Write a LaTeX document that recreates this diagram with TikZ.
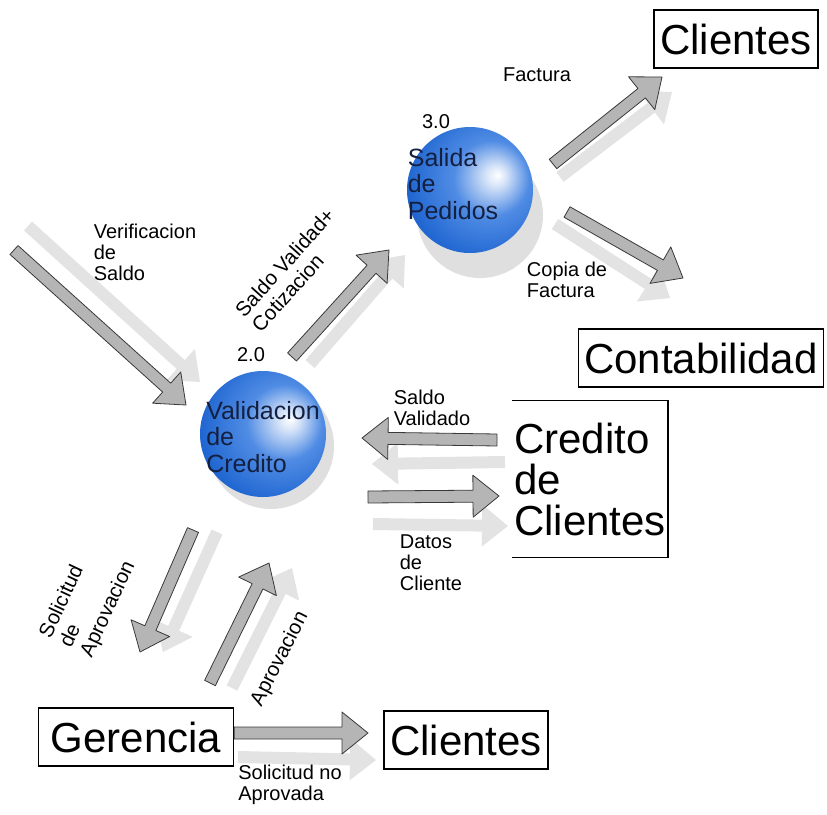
\documentclass[tikz,border=0pt]{standalone}
\usepackage{fontspec}
\setmainfont{Liberation Sans}
\usetikzlibrary{calc}

\definecolor{esfclaro}{RGB}{215,228,248}
\definecolor{esfmedio}{RGB}{80,140,228}
\definecolor{esfazul}{RGB}{34,104,210}
\definecolor{esfoscuro}{RGB}{18,60,160}
\definecolor{azultexto}{RGB}{20,32,64}
\pgfdeclareradialshading{esferaazul}{\pgfpoint{11bp}{6bp}}{color(0bp)=(white); color(4bp)=(esfclaro); color(15bp)=(esfmedio); color(30bp)=(esfazul); color(48bp)=(esfoscuro); color(64bp)=(esfoscuro)}

% fat arrow: style, tail, tip
\newcommand{\flecha}[3]{%
  \coordinate (fh) at ($(#3)!26pt!(#2)$);
  \path[#1] ($(#2)!6pt!90:(#3)$) -- ($(fh)!6pt!90:(#3)$) -- ($(fh)!21pt!90:(#3)$)
    -- (#3) -- ($(fh)!21pt!-90:(#3)$) -- ($(fh)!6pt!-90:(#3)$) -- ($(#2)!6pt!-90:(#3)$) -- cycle;
}

\begin{document}
\begin{tikzpicture}[x=1pt, y=-1pt,
  caja/.style={draw, line width=1.3pt, minimum height=58pt, inner xsep=6pt, font=\fontsize{42}{46}\selectfont},
  almacen/.style={align=left, inner xsep=2pt, minimum height=157pt, font=\fontsize{42}{41}\selectfont},
  proc/.style={circle, minimum size=126pt, inner sep=0pt, shading=esferaazul},
  procsombra/.style={circle, minimum size=126pt, inner sep=0pt, fill=gray!25},
  proctxt/.style={align=left, inner sep=0pt, text=azultexto, font=\fontsize{25}{26.5}\selectfont},
  etq/.style={align=left, inner sep=0pt, font=\fontsize{20}{21}\selectfont},
  etqgiro/.style={etq, font=\fontsize{20.5}{22.5}\selectfont},
  tubo/.style={fill=gray!58, draw=gray!45!black, line width=0.8pt, line join=round},
  sombra/.style={fill=gray!22}
]
\useasboundingbox (0,0) rectangle (827,814);

% processes
\node[procsombra] (p2s) at (271,446) {};
\node[procsombra] (p3s) at (480,215) {};
\node[proc] (p2) at (263,434) {};
\node[proc] (p3) at (470,190) {};
\node[proctxt] (t2) at (263,437) {Validacion\\de\\Credito};
\node[proctxt] (t3) at (453,184) {Salida\\de\\Pedidos};
\node[etq] (n2) at (251,355) {2.0};
\node[etq] (n3) at (436,122) {3.0};

% entities
\node[caja] (cli1) at (736,39) {Clientes};
\node[caja] (conta) at (701,358) {Contabilidad};
\node[caja, minimum width=195pt] (ger) at (136,737) {Gerencia};
\node[caja] (cli2) at (466,740) {Clientes};
\node[almacen] (cred) at (590,479) {Credito\\de\\Clientes};
\draw[line width=1.3pt] (cred.north west) -- (cred.north east) -- (cred.south east) -- (cred.south west);

% arrow ends
\coordinate (ver1) at (14,250);   \coordinate (ver2) at (186,405);
\coordinate (sv1) at (292,357);   \coordinate (sv2) at (389,250);
\coordinate (fac1) at (553,164);  \coordinate (fac2) at (662,77);
\coordinate (cop1) at (567,212);  \coordinate (cop2) at (683,278);
\coordinate (svd1) at (497,440);  \coordinate (svd2) at (362,438);
\coordinate (dat1) at (368,497);  \coordinate (dat2) at (499,496);
\coordinate (sol1) at (193,530);  \coordinate (sol2) at (140,652);
\coordinate (apr1) at (210,683);  \coordinate (apr2) at (269,563);
\coordinate (sna1) at (ger.east |- 0,733); \coordinate (sna2) at (368,733);
% shadow ends
\coordinate (vers1) at (28,226);  \coordinate (vers2) at (200,382);
\coordinate (svs1) at (310,364);  \coordinate (svs2) at (405,255);
\coordinate (facs1) at (560,177); \coordinate (facs2) at (672,92);
\coordinate (cops1) at (555,224); \coordinate (cops2) at (670,298);
\coordinate (svds1) at (505,462); \coordinate (svds2) at (372,464);
\coordinate (dats1) at (373,524); \coordinate (dats2) at (508,526);
\coordinate (sols1) at (217,532); \coordinate (sols2) at (163,652);
\coordinate (aprs1) at (232,688); \coordinate (aprs2) at (292,568);
\coordinate (snas1) at (238,757); \coordinate (snas2) at (376,760);

\flecha{sombra}{vers1}{vers2}
\flecha{sombra}{svs1}{svs2}
\flecha{sombra}{facs1}{facs2}
\flecha{sombra}{cops1}{cops2}
\flecha{sombra}{svds1}{svds2}
\flecha{sombra}{dats1}{dats2}
\flecha{sombra}{sols1}{sols2}
\flecha{sombra}{aprs1}{aprs2}
\flecha{sombra}{snas1}{snas2}

\flecha{tubo}{ver1}{ver2}
\flecha{tubo}{sv1}{sv2}
\flecha{tubo}{fac1}{fac2}
\flecha{tubo}{cop1}{cop2}
\flecha{tubo}{svd1}{svd2}
\flecha{tubo}{dat1}{dat2}
\flecha{tubo}{sol1}{sol2}
\flecha{tubo}{apr1}{apr2}
\flecha{tubo}{sna1}{sna2}

% flow labels
\node[etq] (lver) at (145,252) {Verificacion\\de\\Saldo};
\node[etqgiro, rotate=48] (lsv) at (293,270) {Saldo Validad+\\Cotizacion};
\node[etq] (lfac) at (537,75) {Factura};
\node[etq] (lcop) at (567,280) {Copia de\\Factura};
\node[etq] (lsvd) at (432,408) {Saldo\\Validado};
\node[etq] (ldat) at (431,563) {Datos\\de\\Cliente};
\node[etqgiro, rotate=65] (lsol) at (88,600) {Solicitud\\de\\Aprovacion};
\node[etqgiro, rotate=63] (lapr) at (280,659) {Aprovacion};
\node[etq] (lsna) at (290,785) {Solicitud no\\Aprovada};
\end{tikzpicture}
\end{document}
